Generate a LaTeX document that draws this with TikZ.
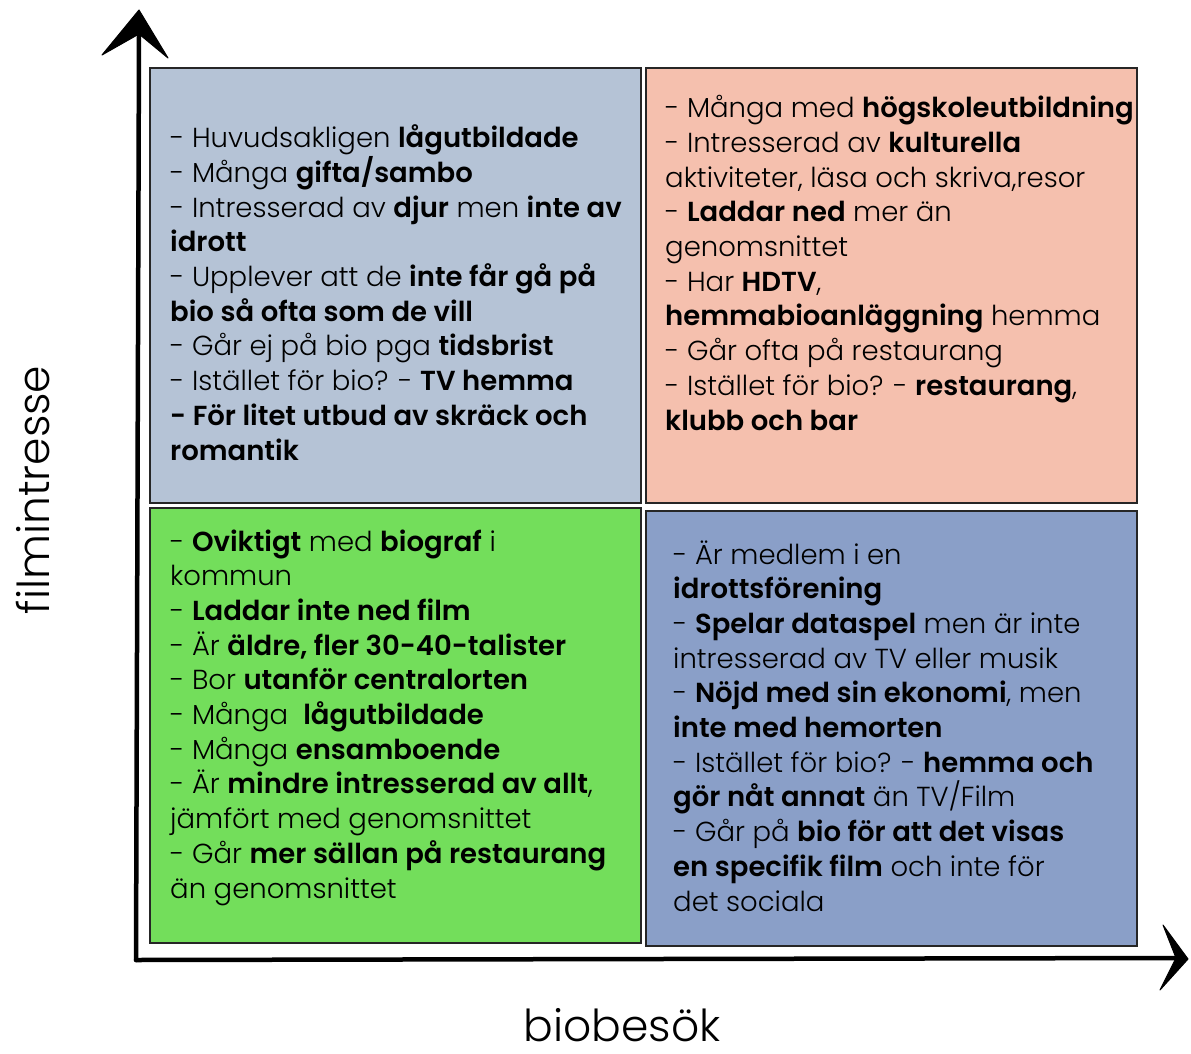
\documentclass[tikz,border=0pt]{standalone}
\usepackage{fontspec}
\setmainfont{Poppins}[UprightFont={* Light}, BoldFont={* SemiBold}]
\definecolor{tlfill}{RGB}{181,195,214}
\definecolor{trfill}{RGB}{245,192,174}
\definecolor{blfill}{RGB}{115,222,91}
\definecolor{brfill}{RGB}{138,159,200}
\begin{document}
\begin{tikzpicture}[x=1pt,y=-1pt,
  quad/.style={draw=black!85, line width=1.6pt, minimum width=491pt, minimum height=435pt, inner sep=0pt, anchor=north west},
  body/.style={anchor=base west, align=left, inner sep=0pt, font=\fontsize{27.5}{34.7}\selectfont},
  axisline/.style={line width=4.5pt, line cap=round},
  axishead/.style={fill=black, draw=black, line width=1pt, line join=round},
  axislabel/.style={font=\fontsize{44}{50}\selectfont, inner sep=0pt}]
\useasboundingbox (0,0) rectangle (1191,1054);
% quadrants
\node[quad, fill=tlfill] (tl) at (149,67) {};
\node[quad, fill=trfill] (tr) at (645,67) {};
\node[quad, fill=blfill] (bl) at (149,507) {};
\node[quad, fill=brfill] (br) at (645,510) {};
% axes
\coordinate (origin) at (136,960);
\coordinate (ytop) at (139,36);
\coordinate (xend) at (1180,958);
\draw[axisline] (origin) -- (ytop);
\draw[axisline] (origin) -- (xend);
\fill[axishead] (139,10) -- (102,55) -- (139,34) -- (168,58) -- cycle;
\fill[axishead] (1188,959) -- (1163,925) -- (1176,958) -- (1160,990) -- cycle;
\node[axislabel, rotate=90] (ylab) at (33,490) {filmintresse};
\node[axislabel] (xlab) at (622,1025) {biobesök};
% texts (base anchor = baseline of last line)
\node[body] (tltext) at (170,460) {- Huvudsakligen \textbf{lågutbildade}\\
- Många \textbf{gifta/sambo}\\
- Intresserad av \textbf{djur} men \textbf{inte av}\\
\textbf{idrott}\\
- Upplever att de \textbf{inte får gå på}\\
\textbf{bio så ofta som de vill}\\
- Går ej på bio pga \textbf{tidsbrist}\\
- Istället för bio? - \textbf{TV hemma}\\
\textbf{- För litet utbud av skräck och}\\
\textbf{romantik}};
\node[body] (trtext) at (665,430) {- Många med \textbf{högskoleutbildning}\\
- Intresserad av \textbf{kulturella}\\
aktiviteter, läsa och skriva,resor\\
- \textbf{Laddar ned} mer än\\
genomsnittet\\
- Har \textbf{HDTV},\\
\textbf{hemmabioanläggning} hemma\\
- Går ofta på restaurang\\
- Istället för bio? - \textbf{restaurang},\\
\textbf{klubb och bar}};
\node[body] (bltext) at (170,898) {- \textbf{Oviktigt} med \textbf{biograf} i\\
kommun\\
- \textbf{Laddar inte ned film}\\
- Är \textbf{äldre, fler 30-40-talister}\\
- Bor \textbf{utanför centralorten}\\
- Många \ \textbf{lågutbildade}\\
- Många \textbf{ensamboende}\\
- Är \textbf{mindre intresserad av allt},\\
jämfört med genomsnittet\\
- Går \textbf{mer sällan på restaurang}\\
än genomsnittet};
\node[body] (brtext) at (673,911) {- Är medlem i en\\
\textbf{idrottsförening}\\
- \textbf{Spelar dataspel} men är inte\\
intresserad av TV eller musik\\
- \textbf{Nöjd med sin ekonomi}, men\\
\textbf{inte med hemorten}\\
- Istället för bio? - \textbf{hemma och}\\
\textbf{gör nåt annat} än TV/Film\\
- Går på \textbf{bio för att det visas}\\
\textbf{en specifik film} och inte för\\
det sociala};
\end{tikzpicture}
\end{document}
